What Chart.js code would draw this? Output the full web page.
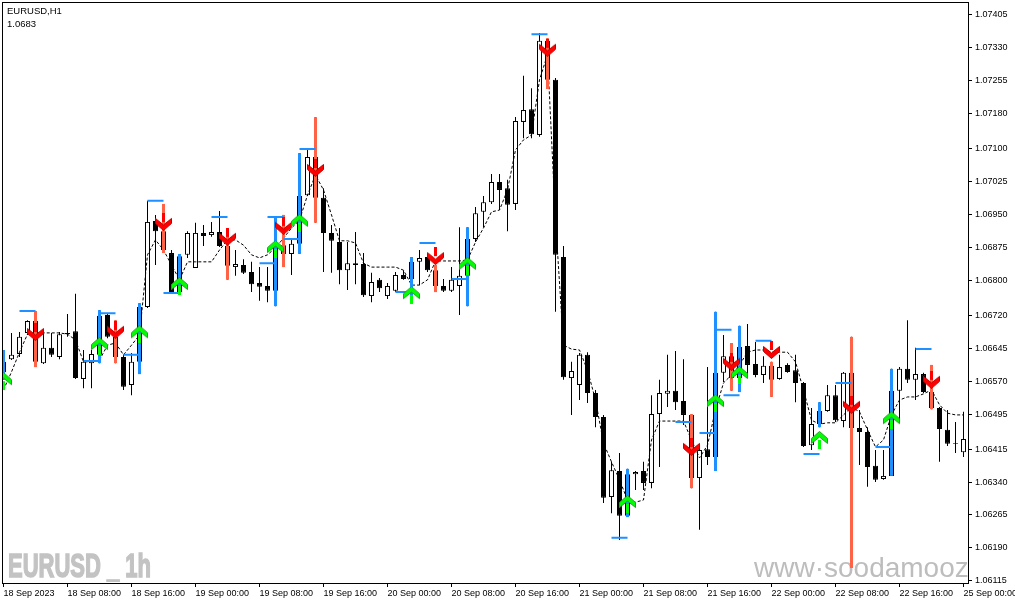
<!DOCTYPE html>
<html>
<head>
<meta charset="utf-8">
<script src="https://cdn.jsdelivr.net/npm/chart.js@4.4.1/dist/chart.umd.min.js"></script>
<style>
  html, body { margin: 0; padding: 0; background: #ffffff; }
  canvas { display: block; }
</style>
</head>
<body>
<canvas id="chart" width="1015" height="605" style="width:1015px;height:605px"></canvas>
<script>
// EURUSD H1, 18 Sep 2023 00:00 .. 25 Sep 2023 00:00 (one value per bar)
const opens = [
  1.06591,1.06620,1.06632,1.06680,1.06707,1.06611,1.06646,1.06625,1.06680,1.06684,
  1.06575,1.06611,1.06630,1.06721,1.06671,1.06625,1.06561,1.06614,1.06739,1.06935,
  1.06912,1.06862,1.06773,1.06858,1.06828,1.06908,1.06903,1.06910,1.06878,1.06830,
  1.06835,1.06819,1.06794,1.06787,1.06776,1.06880,1.06860,1.06883,1.06994,1.07081,
  1.06988,1.06908,1.06887,1.06823,1.06839,1.06837,1.06764,1.06801,1.06764,1.06776,
  1.06812,1.06803,1.06842,1.06853,1.06823,1.06787,1.06776,1.06787,1.06810,1.06894,
  1.06956,1.06978,1.07024,1.07010,1.06974,1.07161,1.07190,1.07131,1.07346,1.07257,
  1.06853,1.06577,1.06561,1.06630,1.06543,1.06488,1.06306,1.06365,1.06263,1.06358,
  1.06365,1.06338,1.06495,1.06541,1.06548,1.06525,1.06493,1.06349,1.06415,1.06397,
  1.06589,1.06627,1.06577,1.06650,1.06609,1.06584,1.06605,1.06575,1.06607,1.06595,
  1.06566,1.06424,1.06472,1.06502,1.06538,1.06479,1.06589,1.06463,1.06454,1.06377,
  1.06347,1.06354,1.06548,1.06598,1.06573,1.06586,1.06545,1.06509,1.06459,1.06429,
  1.06408
];
const highs = [
  1.06641,1.06680,1.06682,1.06709,1.06730,1.06680,1.06680,1.06682,1.06723,1.06769,
  1.06641,1.06641,1.06732,1.06725,1.06709,1.06630,1.06634,1.06748,1.06981,1.06949,
  1.06974,1.06869,1.06860,1.06912,1.06931,1.06926,1.06933,1.06958,1.06919,1.06869,
  1.06848,1.06842,1.06830,1.06830,1.06944,1.06949,1.06894,1.07090,1.07097,1.07172,
  1.07010,1.06926,1.06919,1.06887,1.06910,1.06862,1.06817,1.06805,1.06794,1.06819,
  1.06823,1.06853,1.06869,1.06858,1.06835,1.06803,1.06830,1.06921,1.06921,1.06967,
  1.06992,1.07042,1.07042,1.07029,1.07172,1.07266,1.07238,1.07364,1.07352,1.07261,
  1.06878,1.06614,1.06634,1.06636,1.06550,1.06493,1.06386,1.06406,1.06370,1.06365,
  1.06386,1.06538,1.06573,1.06630,1.06639,1.06620,1.06495,1.06418,1.06602,1.06728,
  1.06675,1.06657,1.06696,1.06700,1.06659,1.06627,1.06614,1.06630,1.06611,1.06630,
  1.06568,1.06509,1.06522,1.06561,1.06561,1.06591,1.06671,1.06504,1.06465,1.06413,
  1.06413,1.06598,1.06602,1.06709,1.06646,1.06589,1.06607,1.06511,1.06504,1.06477,
  1.06500
];
const lows = [
  1.06573,1.06618,1.06625,1.06675,1.06602,1.06609,1.06625,1.06620,1.06671,1.06575,
  1.06554,1.06554,1.06611,1.06668,1.06611,1.06550,1.06538,1.06586,1.06737,1.06835,
  1.06862,1.06771,1.06771,1.06851,1.06828,1.06878,1.06899,1.06876,1.06801,1.06810,
  1.06814,1.06773,1.06753,1.06750,1.06741,1.06830,1.06812,1.06860,1.06992,1.06931,
  1.06819,1.06817,1.06791,1.06778,1.06791,1.06762,1.06750,1.06773,1.06757,1.06773,
  1.06801,1.06762,1.06789,1.06819,1.06773,1.06773,1.06773,1.06721,1.06741,1.06887,
  1.06921,1.06974,1.06960,1.06912,1.06960,1.07124,1.07124,1.07127,1.07236,1.06728,
  1.06573,1.06493,1.06527,1.06520,1.06465,1.06292,1.06269,1.06208,1.06260,1.06322,
  1.06322,1.06326,1.06374,1.06511,1.06504,1.06470,1.06326,1.06231,1.06379,1.06365,
  1.06568,1.06548,1.06545,1.06584,1.06579,1.06566,1.06534,1.06573,1.06589,1.06522,
  1.06420,1.06413,1.06465,1.06500,1.06477,1.06465,1.06144,1.06379,1.06329,1.06340,
  1.06345,1.06354,1.06475,1.06566,1.06527,1.06543,1.06506,1.06386,1.06422,1.06406,
  1.06397
];
const closes = [
  1.06614,1.06630,1.06671,1.06707,1.06614,1.06646,1.06630,1.06677,1.06677,1.06577,
  1.06614,1.06632,1.06719,1.06671,1.06625,1.06557,1.06614,1.06739,1.06933,1.06912,
  1.06869,1.06773,1.06855,1.06908,1.06908,1.06901,1.06910,1.06878,1.06833,1.06837,
  1.06817,1.06791,1.06785,1.06776,1.06880,1.06860,1.06883,1.06992,1.07081,1.06988,
  1.06908,1.06890,1.06823,1.06839,1.06835,1.06766,1.06796,1.06782,1.06787,1.06812,
  1.06803,1.06842,1.06851,1.06823,1.06787,1.06776,1.06801,1.06810,1.06894,1.06953,
  1.06978,1.07024,1.07006,1.06972,1.07163,1.07188,1.07133,1.07346,1.07257,1.06858,
  1.06579,1.06593,1.06630,1.06543,1.06488,1.06304,1.06367,1.06263,1.06358,1.06363,
  1.06338,1.06495,1.06543,1.06548,1.06522,1.06493,1.06349,1.06413,1.06397,1.06589,
  1.06627,1.06577,1.06648,1.06607,1.06584,1.06605,1.06573,1.06602,1.06591,1.06566,
  1.06422,1.06472,1.06502,1.06538,1.06481,1.06589,1.06463,1.06454,1.06374,1.06345,
  1.06354,1.06548,1.06598,1.06573,1.06586,1.06545,1.06509,1.06461,1.06427,1.06427,
  1.06438
];
// dashed trailing line
const trail = [
  1.06550,1.06591,1.06636,1.06677,1.06680,1.06680,1.06680,1.06680,1.06677,1.06664,
  1.06614,1.06614,1.06618,1.06652,1.06657,1.06630,1.06652,1.06675,1.06858,1.06892,
  1.06869,1.06835,1.06801,1.06842,1.06842,1.06842,1.06842,1.06869,1.06892,1.06892,
  1.06880,1.06858,1.06851,1.06858,1.06874,1.06896,1.06919,1.06937,1.06994,1.07040,
  1.07006,1.06949,1.06890,1.06890,1.06885,1.06839,1.06830,1.06830,1.06830,1.06830,
  1.06823,1.06789,1.06789,1.06801,1.06844,1.06844,1.06844,1.06844,1.06846,1.06887,
  1.06919,1.06956,1.06960,1.07006,1.07097,1.07120,1.07131,1.07257,1.07314,1.06937,
  1.06652,1.06643,1.06641,1.06595,1.06527,1.06429,1.06386,1.06345,1.06299,1.06294,
  1.06299,1.06436,1.06479,1.06479,1.06479,1.06479,1.06436,1.06395,1.06424,1.06504,
  1.06566,1.06584,1.06607,1.06636,1.06641,1.06641,1.06636,1.06636,1.06636,1.06614,
  1.06550,1.06481,1.06472,1.06475,1.06475,1.06493,1.06511,1.06500,1.06459,1.06420,
  1.06436,1.06493,1.06527,1.06534,1.06534,1.06541,1.06550,1.06516,1.06497,1.06493,
  1.06493
];

// signal bars: bar index, arrow price, level price
const buyIdx   = [0, 12, 17, 22, 34, 37, 51, 58, 78, 89, 92, 102, 111];
const buyArrow = [1.06570,1.06650,1.06677,1.06787,1.06871,1.06931,1.06766,1.06833,1.06290,1.06520,1.06584,1.06436,1.06481];
const buyLevel = [null,1.06616,1.06630,1.06771,1.06839,1.06894,1.06773,1.06803,1.06213,1.06452,1.06538,1.06404,1.06420];
const sellIdx   = [4, 14, 20, 28, 35, 39, 54, 68, 86, 91, 96, 106, 116];
const sellArrow = [1.06682,1.06687,1.06933,1.06899,1.06924,1.07056,1.06855,1.07330,1.06420,1.06614,1.06641,1.06516,1.06573];
const sellLevel = [1.06730,1.06725,1.06981,1.06944,1.06944,1.07099,1.06885,1.07361,1.06477,1.06687,1.06662,1.06566,1.06643];

const xLabels = ['18 Sep 2023','18 Sep 08:00','18 Sep 16:00','19 Sep 00:00','19 Sep 08:00','19 Sep 16:00',
  '20 Sep 00:00','20 Sep 08:00','20 Sep 16:00','21 Sep 00:00','21 Sep 08:00','21 Sep 16:00',
  '22 Sep 00:00','22 Sep 08:00','22 Sep 16:00','25 Sep 00:00'];
const xLabelBars = [0, 8, 16, 24, 32, 40, 48, 56, 64, 72, 80, 88, 96, 104, 112, 120];
const yLabels = ['1.07405','1.07330','1.07255','1.07180','1.07100','1.07025','1.06950','1.06875','1.06800',
  '1.06720','1.06645','1.06570','1.06495','1.06415','1.06340','1.06265','1.06190','1.06115'];

const FONT = '"Liberation Sans", Arial, sans-serif';
const BLUE = '#1e90ff';
const TOMATO = '#ff6347';

function arrowImage(up, fill, edge) {
  const c = document.createElement('canvas');
  c.width = 17; c.height = 18;
  const g = c.getContext('2d');
  if (up) { g.translate(0, 18); g.scale(1, -1); }
  g.fillStyle = fill;
  g.fillRect(7, 0, 3, 9);
  g.beginPath();
  g.moveTo(0.5, 5.5); g.lineTo(8.5, 12); g.lineTo(16.5, 5.5);
  g.lineTo(16.5, 10.5); g.lineTo(8.5, 17.5); g.lineTo(0.5, 10.5);
  g.closePath();
  g.fill();
  g.strokeStyle = edge; g.lineWidth = 1; g.stroke();
  return c;
}
const downImg = arrowImage(false, '#ff0000', '#c00000');
const upImg = arrowImage(true, '#00ff00', '#22a022');

const bars = opens.map((_, i) => i);
const wicks = bars.map(i => ({x: i, y: [lows[i], highs[i]]}));
const bodies = bars.map(i => ({x: i, y: [opens[i], closes[i]]}));
const bodyColors = bars.map(i => closes[i] >= opens[i] ? '#ffffff' : '#000000');

const levelPts = [];
buyIdx.forEach((k, j) => {
  if (buyLevel[j] !== null) levelPts.push({x: k - 2, y: buyLevel[j]}, {x: k, y: buyLevel[j]}, {x: k, y: null});
});
sellIdx.forEach((k, j) => {
  levelPts.push({x: k - 2, y: sellLevel[j]}, {x: k, y: sellLevel[j]}, {x: k, y: null});
});

const barBase = {type: 'bar', grouped: false, inflateAmount: 0, borderSkipped: false};

const textPlugin = {
  id: 'mtText',
  beforeDatasetsDraw(chart) {
    const ctx = chart.ctx;
    const a = chart.chartArea;
    ctx.save();
    // watermark, bottom left
    ctx.font = 'bold 33px "Liberation Sans", Arial, sans-serif';
    const t = 'EURUSD _ 1h';
    const w = ctx.measureText(t).width;
    ctx.translate(8, 577);
    ctx.scale(143 / w, 1);
    ctx.fillStyle = '#c3c3c3';
    ctx.strokeStyle = '#c3c3c3';
    ctx.lineWidth = 1.5;
    ctx.fillText(t, 0, 0);
    ctx.strokeText(t, 0, 0);
    ctx.restore();

    ctx.save();
    ctx.beginPath();
    ctx.rect(a.left, a.top, a.right - a.left - 1, a.bottom - a.top);
    ctx.clip();
    ctx.font = '28px ' + FONT;
    ctx.fillStyle = '#bdbdbd';
    ctx.fillText('www\u00b7soodamooz.com', 754, 577);
    ctx.restore();
  },
  afterDraw(chart) {
    const ctx = chart.ctx;
    const a = chart.chartArea;
    ctx.save();
    ctx.strokeStyle = '#000000';
    ctx.lineWidth = 1;
    ctx.strokeRect(a.left + 0.5, a.top + 0.5, a.right - a.left - 1, a.bottom - a.top - 1);
    ctx.fillStyle = '#000000';
    ctx.font = '9.5px ' + FONT;
    ctx.fillText('EURUSD,H1', 7, 14);
    ctx.fillText('1.0683', 7, 27);
    ctx.restore();
  }
};

new Chart(document.getElementById('chart').getContext('2d'), {
  type: 'line',
  data: {
    datasets: [
      {type: 'line', label: 'buy', data: buyIdx.map((k, j) => ({x: k, y: buyArrow[j]})),
        showLine: false, pointStyle: upImg, pointRadius: 8, order: 1},
      {type: 'line', label: 'sell', data: sellIdx.map((k, j) => ({x: k, y: sellArrow[j]})),
        showLine: false, pointStyle: downImg, pointRadius: 8, order: 1},
      {type: 'line', label: 'levels', data: levelPts, borderColor: BLUE, borderWidth: 2,
        pointRadius: 0, spanGaps: false, order: 2},
      {...barBase, label: 'buy bars', data: buyIdx.map(k => ({x: k, y: [lows[k], highs[k]]})),
        backgroundColor: BLUE, barThickness: 3, order: 3},
      {...barBase, label: 'sell bars', data: sellIdx.map(k => ({x: k, y: [lows[k], highs[k]]})),
        backgroundColor: TOMATO, barThickness: 3, order: 3},
      {type: 'line', label: 'trail', data: trail.map((v, i) => ({x: i, y: v})),
        borderColor: '#000000', borderWidth: 1, borderDash: [3, 2], pointRadius: 0, tension: 0, order: 4},
      {...barBase, label: 'body', data: bodies, backgroundColor: bodyColors, borderColor: '#000000',
        borderWidth: 1, barThickness: 5, order: 5},
      {...barBase, label: 'wick', data: wicks, backgroundColor: '#000000', barThickness: 1, order: 6}
    ]
  },
  options: {
    responsive: false,
    animation: false,
    devicePixelRatio: 1,
    events: [],
    layout: {autoPadding: false, padding: {left: 2, top: 2, right: 0, bottom: 0}},
    plugins: {legend: {display: false}, tooltip: {enabled: false}, title: {display: false}},
    scales: {
      x: {
        type: 'linear',
        min: -0.1875,
        max: 120.6875,
        offset: false,
        border: {display: false},
        grid: {drawOnChartArea: false, drawTicks: true, tickLength: 3, color: '#000000', offset: false},
        afterBuildTicks: scale => { scale.ticks = xLabelBars.map(v => ({value: v})); },
        afterFit: scale => { scale.height = 21; scale.paddingLeft = 0; scale.paddingRight = 0; },
        ticks: {
          autoSkip: false, maxRotation: 0, minRotation: 0, align: 'start', padding: 1,
          color: '#000000', font: {family: FONT, size: 9},
          callback: (v, i) => xLabels[i]
        }
      },
      y: {
        type: 'linear',
        position: 'right',
        min: 1.061075,
        max: 1.074344,
        border: {display: false},
        grid: {drawOnChartArea: false, drawTicks: true, tickLength: 3, color: '#000000'},
        afterBuildTicks: scale => { scale.ticks = yLabels.map(l => ({value: parseFloat(l)})); },
        afterFit: scale => { scale.width = 46; scale.paddingTop = 0; scale.paddingBottom = 0; },
        ticks: {
          autoSkip: false, padding: 3, color: '#000000', font: {family: FONT, size: 9},
          callback: (v, i) => yLabels[i]
        }
      }
    }
  },
  plugins: [textPlugin]
});
</script>
</body>
</html>
